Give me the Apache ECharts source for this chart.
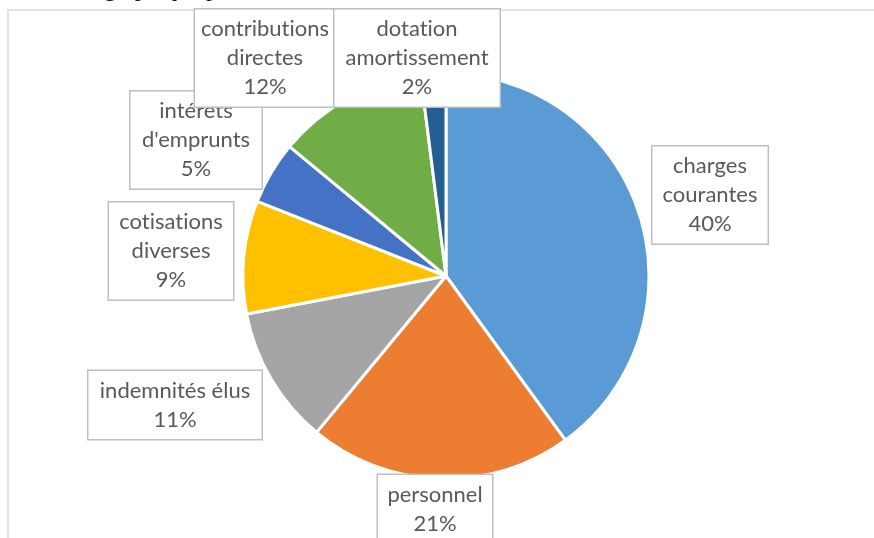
<!DOCTYPE html>
<html>
<head>
<meta charset="utf-8">
<script src="https://cdn.jsdelivr.net/npm/echarts@6/dist/echarts.min.js"></script>
<style>
  html, body { margin: 0; padding: 0; background: #fff; }
  #chart { width: 874px; height: 538px; }
</style>
</head>
<body>
<div id="chart"></div>
<script>
  // categories, clockwise from 12 o'clock
  var categories = ['charges\ncourantes', 'personnel', 'indemnités élus', 'cotisations\ndiverses',
    'intérets\nd\'emprunts', 'contributions\ndirectes', 'dotation\namortissement']
  var values = [40, 21, 11, 9, 5, 12, 2]
  var colors = ['#5B9BD5', '#ED7D31', '#A5A5A5', '#FFC000', '#4472C4', '#70AD47', '#255E91']

  // callout boxes: centre x, centre y, box width
  var boxes = [
    [710, 195, 115],
    [435, 509, 114],
    [175, 405, 173],
    [171, 251, 124],
    [196, 140, 131],
    [265, 58, 140],
    [417, 58, 165]
  ]

  var chart = echarts.init(document.getElementById('chart'))
  chart.setOption({
    animation: false,
    graphic: [
      { // bottom of the document text above the chart
        type: 'text', left: 104, top: -22, silent: true,
        style: { text: 'graphique pour', font: '24px "Liberation Serif"', fill: '#000' }
      },
      { // chart area border
        type: 'rect', silent: true, z: -1,
        shape: { x: 8, y: 10, width: 920, height: 600 },
        style: { fill: 'none', stroke: '#D9D9D9', lineWidth: 1.5 }
      }
    ],
    series: [
      {
        type: 'pie',
        center: [446, 276],
        radius: 203,
        startAngle: 90,
        clockwise: true,
        avoidLabelOverlap: false,
        itemStyle: { borderColor: '#fff', borderWidth: 3 },
        emphasis: { disabled: true },
        label: {
          show: true,
          // zero-width non-joiner keeps Lato from drawing the "ti" ligature
          formatter: function (p) {
            return (p.name + '\n' + p.percent + '%').replace(/ti/g, 't\u200Ci')
          },
          fontFamily: 'Lato',
          fontSize: 22,
          lineHeight: 29,
          color: '#595959',
          align: 'center',
          backgroundColor: '#fff',
          borderColor: '#BFBFBF',
          borderWidth: 1.5,
          padding: [5, 0]
        },
        labelLine: { show: false },
        labelLayout: function (p) {
          var b = boxes[p.dataIndex]
          return { x: b[0], y: b[1], align: 'center', verticalAlign: 'middle' }
        },
        data: categories.map(function (c, i) {
          return {
            name: c,
            value: values[i],
            itemStyle: { color: colors[i] },
            label: { width: boxes[i][2] }
          }
        })
      }
    ]
  })
</script>
</body>
</html>
